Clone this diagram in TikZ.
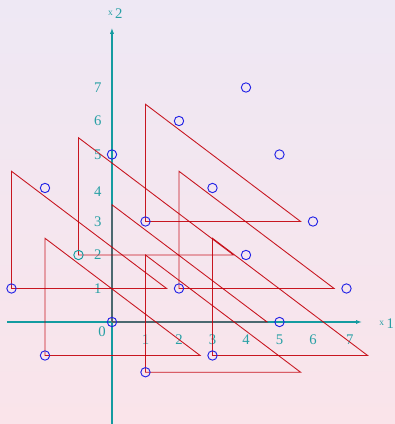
\documentclass[tikz,border=0pt]{standalone}
\usepackage{fontspec}
\setmainfont{Liberation Serif}
\usetikzlibrary{arrows.meta}
\definecolor{axcol}{RGB}{20,155,160}
\definecolor{labcol}{RGB}{40,160,165}
\definecolor{trcol}{RGB}{195,0,10}
\definecolor{ptcol}{RGB}{35,35,230}
\definecolor{bgtop}{RGB}{238,232,244}
\definecolor{bgbot}{RGB}{250,228,234}
\tikzset{
  lattpt/.style={circle,draw=ptcol,line width=0.8pt,inner sep=0pt,minimum size=0.28cm},
  trline/.style={draw=trcol,line width=0.75pt,opacity=0.9},
  axline/.style={draw=axcol,line width=0.9pt,-{Latex[length=5pt,width=3.5pt]}},
  ticklab/.style={text=labcol,font=\fontsize{12.5}{14}\selectfont}
}
\begin{document}
\begin{tikzpicture}
\useasboundingbox[top color=bgtop,bottom color=bgbot] (-3.343,-3.045) rectangle (8.448,9.612);
% axes
\coordinate (xs) at (-3.13,0);
\coordinate (xe) at (7.46,0);
\coordinate (ys) at (0,-3.05);
\coordinate (ye) at (0,8.78);
\draw[axline] (xs) -- (xe);
\draw[axline] (ys) -- (ye);
\node[ticklab] (x1) at (8.2,-0.06) {{\footnotesize\raisebox{3pt}{x}}\,1};
\node[ticklab] (x2) at (0.1,9.2) {{\footnotesize\raisebox{3pt}{x}}\,2};
\node[ticklab] (o) at (-0.3,-0.29) {0};
\foreach \i/\xx in {1/1,2/2,3/3,4/4,5/5,6/6,7/7.1}
  \node[ticklab] (tx\i) at (\xx,-0.54) {\i};
\foreach \i/\yy in {1/1,2/2,3/3,4/3.88,5/5,6/6,7/7}
  \node[ticklab] (ty\i) at (-0.42,\yy) {\i};
% lattice points
\foreach \n/\p in {a/{-3,1},b/{-1,2},c/{1,3},d/{0,0},e/{2,1},f/{-2,-1},g/{3,-1},h/{1,-1.5},
  i/{5,0},j/{7,1},k/{4,2},l/{6,3},m/{3,4},n/{-2,4},q/{0,5},r/{5,5},s/{2,6},t/{4,7}}
  \coordinate (\n) at (\p);
% triangles
\foreach \n in {a,b,c,d,e,f,g,h}
  \draw[trline] (\n) -- ++(0,3.5) -- ++(4.63,-3.5) -- cycle;
\foreach \n in {a,c,d,e,f,g,h,i,j,k,l,m,n,q,r,s,t}
  \node[lattpt] (pt\n) at (\n) {};
\node[lattpt,draw=axcol] (ptb) at (b) {};
\end{tikzpicture}
\end{document}
